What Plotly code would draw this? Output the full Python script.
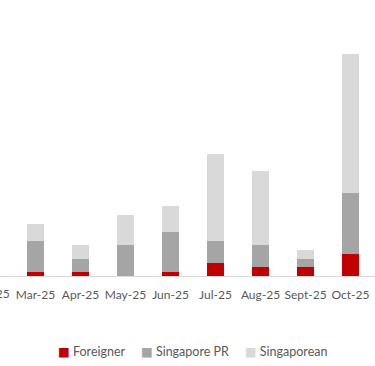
import plotly.graph_objects as go

months = ["Mar-25", "Apr-25", "May-25", "Jun-25", "Jul-25", "Aug-25", "Sept-25", "Oct-25"]
prev_month_label = "Feb-25"
foreigner = [1, 1, 0, 1, 3, 2, 2, 5]
singapore_pr = [7, 3, 7, 9, 5, 5, 2, 14]
singaporean = [4, 3, 7, 6, 20, 17, 2, 32]

series_names = ["Foreigner", "Singapore PR", "Singaporean"]
series_colors = ["#C00000", "#A5A5A5", "#D9D9D9"]
series_values = [foreigner, singapore_pr, singaporean]

FONT = "Lato, 'DejaVu Sans', sans-serif"
TXT = "#595959"
FS = 12

fig = go.Figure()
for name, color, vals in zip(series_names, series_colors, series_values):
    fig.add_trace(go.Bar(x=months, y=vals, name=name, marker_color=color,
                         marker_line_width=0, showlegend=False))

legend_html = "&nbsp;&nbsp;&nbsp;&nbsp;&nbsp;".join(
    f'<span style="color:{c}">■</span> {n}' for n, c in zip(series_names, series_colors)
)

fig.update_layout(
    width=375, height=366,
    margin=dict(l=0, r=0, t=10, b=90, autoexpand=False),
    barmode="stack", bargap=0.61,
    plot_bgcolor="white", paper_bgcolor="white",
    font=dict(family=FONT, size=FS, color=TXT),
    xaxis=dict(type="category", range=[-0.789, 7.544], showline=True,
               linecolor="#D9D9D9", linewidth=1, showgrid=False, ticks="",
               tickangle=0, automargin=False,
               ticklabelstandoff=8, tickfont=dict(family=FONT, size=FS, color=TXT)),
    yaxis=dict(range=[0, 61], visible=False, showgrid=False, automargin=False),
    annotations=[
        dict(text=prev_month_label, xref="paper", yref="paper", x=-9.5 / 375, y=0,
             xanchor="center", yanchor="middle", yshift=-17, showarrow=False,
             font=dict(family=FONT, size=FS, color=TXT)),
        dict(text=legend_html, xref="paper", yref="paper", x=0.513, y=0,
             xanchor="center", yanchor="middle", yshift=-75, showarrow=False,
             font=dict(family=FONT, size=FS + 0.5, color=TXT)),
    ],
)

fig.write_html("out.html", config={"displayModeBar": False},
               post_script="document.body.style.margin='0';document.body.style.overflow='hidden';")
